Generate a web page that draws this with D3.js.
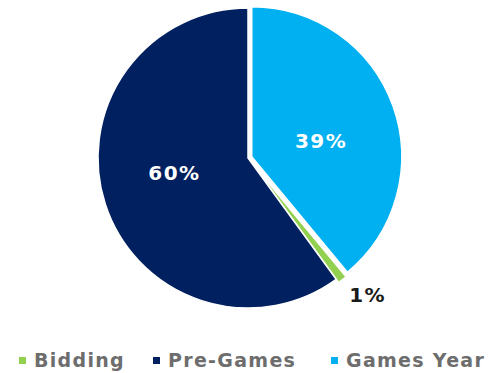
<!DOCTYPE html>
<html>
<head>
<meta charset="utf-8">
<script src="https://cdn.jsdelivr.net/npm/d3@7"></script>
<style>
  body { margin: 0; background: #fff; }
  svg { display: block; }
</style>
</head>
<body>
<div id="chart"></div>
<script>
// Datos del gráfico (orden de las porciones, en sentido horario desde arriba)
const categories = ["Games Year", "Bidding", "Pre-Games"];
const values = [39, 1, 60];
const labels = ["39%", "1%", "60%"];
const colors = ["#00b0f0", "#92d050", "#002060"];
// Orden de la leyenda
const legendItems = ["Bidding", "Pre-Games", "Games Year"];

const width = 491, height = 373;
const cx = 248, cy = 158, radius = 150;

const svg = d3.select("#chart").append("svg")
    .attr("width", width)
    .attr("height", height);

const color = d3.scaleOrdinal().domain(categories).range(colors);

const pie = d3.pie().sort(null).value(d => d)(values);
const arc = d3.arc().innerRadius(0).outerRadius(radius);

const g = svg.append("g")
    .attr("transform", "translate(" + cx + "," + cy + ")");

// Las porciones "Games Year" y "Bidding" están un poco separadas
const explode = [4, 4, 0];

g.selectAll("path.slice")
    .data(pie)
    .enter().append("path")
    .attr("class", "slice")
    .attr("d", arc)
    .attr("fill", (d, i) => color(categories[i]))
    .attr("stroke", "#fff")
    .attr("stroke-width", 1.5)
    .attr("transform", (d, i) => {
        const a = (d.startAngle + d.endAngle) / 2;
        return "translate(" + (Math.sin(a) * explode[i]) + "," + (-Math.cos(a) * explode[i]) + ")";
    });

// Etiquetas: dentro para las porciones grandes, fuera para la pequeña
function labelPos(d, i) {
    const outside = values[i] < 5;
    const a = (d.startAngle + d.endAngle) / 2 + (outside ? -0.06 : 0.12);
    const r = outside ? radius * 1.21 : radius * 0.5;
    return [Math.sin(a) * r, -Math.cos(a) * r];
}

g.selectAll("text.label")
    .data(pie)
    .enter().append("text")
    .attr("class", "label")
    .attr("transform", (d, i) => "translate(" + labelPos(d, i) + ")")
    .attr("text-anchor", "middle")
    .attr("dy", "0.36em")
    .attr("font-family", "'DejaVu Sans', Verdana, sans-serif")
    .attr("font-weight", "bold")
    .attr("font-size", 20)
    .attr("letter-spacing", 1.5)
    .attr("fill", (d, i) => values[i] < 5 ? "#1a1a1a" : "#fff")
    .text((d, i) => labels[i]);

// Leyenda
const legendX = [19, 153, 331];
const legend = svg.append("g");
legendItems.forEach((name, i) => {
    legend.append("rect")
        .attr("x", legendX[i])
        .attr("y", 357)
        .attr("width", 7)
        .attr("height", 7)
        .attr("fill", color(name));
    legend.append("text")
        .attr("x", legendX[i] + 15)
        .attr("y", 367)
        .attr("font-family", "'DejaVu Sans', Verdana, sans-serif")
        .attr("font-weight", "bold")
        .attr("font-size", 19)
        .attr("letter-spacing", 1.3)
        .attr("fill", "#6d6d6d")
        .text(name);
});
</script>
</body>
</html>
